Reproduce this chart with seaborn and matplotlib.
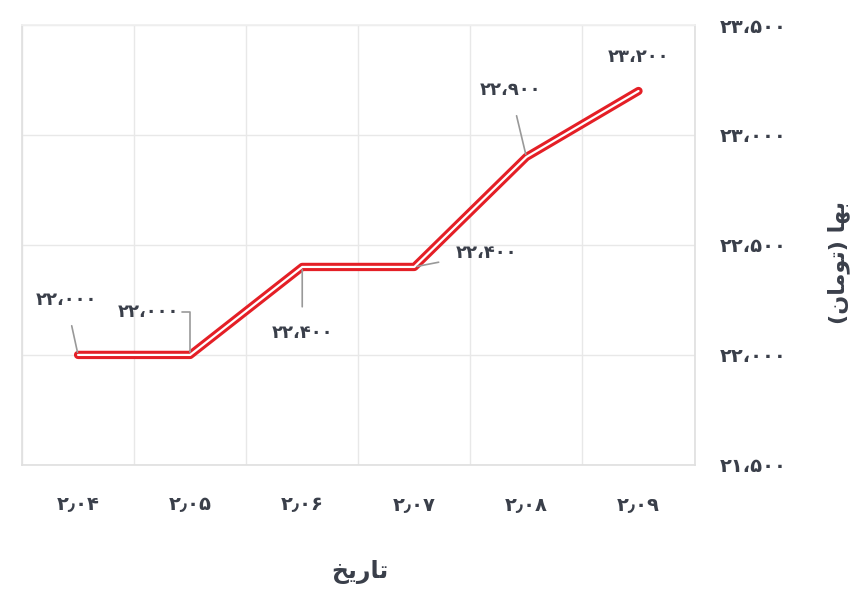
import matplotlib
matplotlib.use("Agg")
import matplotlib.pyplot as plt
import seaborn as sns
import pandas as pd

categories = ["۲٫۰۴", "۲٫۰۵", "۲٫۰۶", "۲٫۰۷", "۲٫۰۸", "۲٫۰۹"]
prices = [22000, 22000, 22400, 22400, 22900, 23200]
point_labels = ["۲۲،۰۰۰", "۲۲،۰۰۰", "۲۲،۴۰۰", "۲۲،۴۰۰", "۲۲،۹۰۰", "۲۳،۲۰۰"]
y_ticks = [21500, 22000, 22500, 23000, 23500]
y_tick_labels = ["۲۱،۵۰۰", "۲۲،۰۰۰", "۲۲،۵۰۰", "۲۳،۰۰۰", "۲۳،۵۰۰"]
x_title = "\uFEA6\uFBFE\uFEAD\uFE8E\uFE97"  # تاریخ
y_title = "(\uFEE5\uFE8E\uFEE3\uFEEE\uFE97) \uFE8E\uFEEC\uFE91"  # بها (تومان)

sns.set_theme(style="white")
plt.rcParams['font.family'] = ['DejaVu Sans']
df = pd.DataFrame({"x": range(len(categories)), "y": prices})

fig = plt.figure(figsize=(8.6, 5.96), dpi=100)
ax = fig.add_axes([0.0256, 0.22, 0.782, 0.738])
sns.lineplot(data=df, x="x", y="y", ax=ax, color="#e41f26", lw=6)
sns.lineplot(data=df, x="x", y="y", ax=ax, color="white", lw=1.6)
ax.set_xlim(-0.5, 5.5)
ax.set_ylim(21500, 23500)
ax.set_xticks(range(len(categories)))
ax.set_xticklabels(categories, fontweight="bold")
ax.set_xticks([i + 0.5 for i in range(-1, 6)], minor=True)
ax.grid(False)
ax.grid(True, which="minor", axis="x", color="#e8e8e8", lw=1)
ax.set_yticks(y_ticks)
ax.set_yticklabels(y_tick_labels, fontweight="bold")
ax.grid(True, which="major", axis="y", color="#e8e8e8", lw=1)
ax.yaxis.tick_right()
ax.tick_params(axis="y", length=0, pad=18, labelsize=14, labelcolor="#3a3f4a")
ax.tick_params(axis="x", which="both", length=0, pad=22, labelsize=14, labelcolor="#3a3f4a")
for name, s in ax.spines.items():
    s.set_color("#e0e0e0" if name != "top" else "#f0f0f0")
ax.set_xlabel(""); ax.set_ylabel("")

offsets = [(-12, 55), (-42, 43), (0, -66), (72, 14), (-16, 67), (0, 34)]
for i, (lab, off) in enumerate(zip(point_labels, offsets)):
    props = None
    if i == 1:
        props = dict(arrowstyle="-", color="#999999", lw=1.2, shrinkA=32, shrinkB=2,
                     connectionstyle="angle,angleA=0,angleB=90,rad=0")
    elif i != 5:
        props = dict(arrowstyle="-", color="#999999", lw=1.2, shrinkA=10, shrinkB=2)
    ax.annotate(lab, (i, prices[i]), xytext=off, textcoords="offset pixels",
                ha="center", va="center", fontsize=13, fontweight="bold", color="#3a3f4a",
                arrowprops=props)

fig.text(0.419, 0.04, x_title, ha="center", va="center", fontsize=17, fontweight="bold", color="#3a3f4a")
fig.text(0.975, 0.56, y_title, ha="center", va="center", fontsize=16, fontweight="bold", color="#3a3f4a", rotation=90)
fig.savefig("out.png", dpi=100)
